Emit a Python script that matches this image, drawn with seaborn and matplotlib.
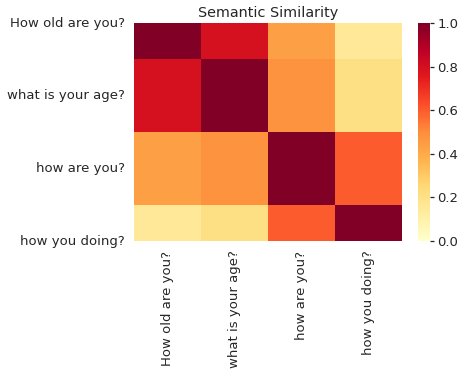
import matplotlib
matplotlib.use("Agg")
import matplotlib.pyplot as plt
import seaborn as sns
import numpy as np
import pandas as pd

labels = ["How old are you?", "what is your age?", "how are you?", "how you doing?"]
row_old = [1.00, 0.79, 0.44, 0.15]
row_age = [0.79, 1.00, 0.48, 0.21]
row_how = [0.44, 0.48, 1.00, 0.60]
row_doing = [0.15, 0.21, 0.60, 1.00]

sim = pd.DataFrame([row_old, row_age, row_how, row_doing], index=labels, columns=labels)

sns.set(font_scale=1.2)
sns.set_style("white")

fig = plt.figure(figsize=(467 / 72, 375 / 72), dpi=72)
ax = fig.add_axes([134 / 467, 1 - 241 / 375, (402 - 134) / 467, (241 - 23) / 375])
cax = fig.add_axes([418 / 467, 1 - 241 / 375, 12 / 467, (241 - 23) / 375])

sns.heatmap(sim, vmin=0, vmax=1, cmap="YlOrRd", ax=ax, cbar_ax=cax)
# half rows at top and bottom, as in the original figure
ax.set_ylim(3.5, 0.5)
ax.set_yticks([0.5, 1.5, 2.5, 3.5])
ax.set_yticklabels(labels, rotation=0, fontsize=13.2)
ax.set_xticklabels(labels, rotation=90, fontsize=13.2)
ax.set_title("Semantic Similarity", fontsize=14.4)
cax.tick_params(labelsize=13.2, length=4, right=True)
cax.set_yticks([0, 0.2, 0.4, 0.6, 0.8, 1.0])

fig.savefig("out.png", dpi=72)
